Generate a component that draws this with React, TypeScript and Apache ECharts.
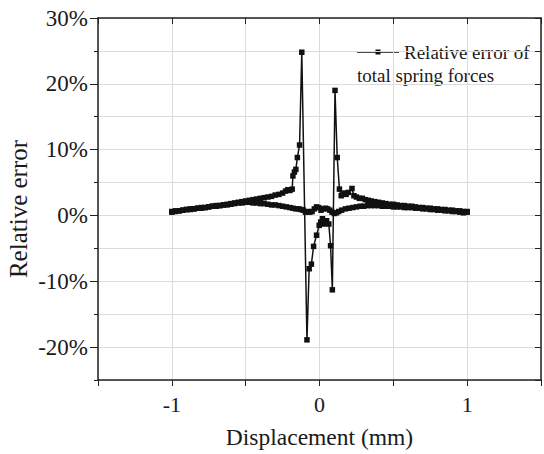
import React, { useEffect, useRef } from "react";
import * as echarts from "echarts";

// Forward sweep (-1 -> 1 mm), relative error in %
const forwardX = [
  -1.0, -0.975, -0.95, -0.925, -0.9, -0.875, -0.85, -0.825, -0.8, -0.775,
  -0.75, -0.725, -0.7, -0.675, -0.65, -0.625, -0.6, -0.575, -0.55, -0.525,
  -0.5, -0.475, -0.45, -0.425, -0.4, -0.375, -0.35, -0.325, -0.3, -0.275,
  -0.25, -0.23, -0.215, -0.2, -0.185, -0.18, -0.17, -0.16, -0.15, -0.135,
  -0.12, -0.085, -0.07, -0.055, -0.04, -0.02, -0.002, 0.008, 0.02, 0.03,
  0.048, 0.063, 0.075, 0.087, 0.105, 0.12, 0.135, 0.147, 0.165, 0.18,
  0.195, 0.22, 0.233, 0.25, 0.27, 0.29, 0.31, 0.33, 0.35, 0.375,
  0.4, 0.425, 0.45, 0.475, 0.5, 0.525, 0.55, 0.575, 0.6, 0.625,
  0.65, 0.675, 0.7, 0.725, 0.75, 0.775, 0.8, 0.825, 0.85, 0.875,
  0.9, 0.925, 0.95, 0.975, 1.0,
];
const forwardY = [
  0.5, 0.6, 0.7, 0.8, 0.9, 1.0, 1.0, 1.1, 1.2, 1.2,
  1.3, 1.4, 1.5, 1.5, 1.6, 1.7, 1.8, 1.9, 2.0, 2.1,
  2.2, 2.3, 2.4, 2.5, 2.6, 2.7, 2.8, 2.9, 3.1, 3.2,
  3.4, 3.7, 3.9, 3.8, 4.0, 6.0, 6.6, 7.0, 8.8, 10.7,
  24.8, -18.9, -8.1, -7.4, -4.7, -3.0, -1.5, -1.0, -0.5, -1.3,
  -0.8, -1.3, -4.6, -11.3, 19.0, 8.8, 4.0, 3.0, 3.4, 3.2,
  3.5, 4.1, 3.0, 2.8, 2.6, 2.6, 2.4, 2.3, 2.2, 2.1,
  2.0, 1.9, 1.8, 1.7, 1.7, 1.6, 1.5, 1.5, 1.4, 1.4,
  1.3, 1.2, 1.2, 1.1, 1.1, 1.0, 1.0, 0.9, 0.9, 0.8,
  0.8, 0.7, 0.7, 0.6, 0.6,
];

// Return sweep (1 -> -1 mm)
const returnX = [
  1.0, 0.975, 0.95, 0.925, 0.9, 0.875, 0.85, 0.825, 0.8, 0.775,
  0.75, 0.725, 0.7, 0.675, 0.65, 0.625, 0.6, 0.575, 0.55, 0.525,
  0.5, 0.475, 0.45, 0.425, 0.4, 0.375, 0.35, 0.325, 0.3, 0.275,
  0.25, 0.225, 0.2, 0.175, 0.15, 0.13, 0.115, 0.1, 0.085, 0.07,
  0.055, 0.04, 0.025, 0.01, -0.005, -0.02, -0.035, -0.05, -0.065, -0.08,
  -0.095, -0.11, -0.125, -0.14, -0.16, -0.18, -0.2, -0.225, -0.25, -0.275,
  -0.3, -0.325, -0.35, -0.375, -0.4, -0.425, -0.45, -0.475, -0.5, -0.525,
  -0.55, -0.575, -0.6, -0.625, -0.65, -0.675, -0.7, -0.725, -0.75, -0.775,
  -0.8, -0.825, -0.85, -0.875, -0.9, -0.925, -0.95, -0.975, -1.0,
];
const returnY = [
  0.5, 0.4, 0.5, 0.6, 0.6, 0.7, 0.7, 0.8, 0.8, 0.9,
  0.9, 1.0, 1.0, 1.1, 1.1, 1.2, 1.2, 1.2, 1.3, 1.3,
  1.3, 1.4, 1.4, 1.4, 1.5, 1.5, 1.5, 1.5, 1.4, 1.4,
  1.3, 1.2, 1.1, 1.0, 0.8, 0.6, 0.4, 0.3, 0.5, 0.8,
  1.0, 1.1, 1.0, 0.8, 1.2, 1.3, 1.0, 0.6, 0.5, 0.6,
  0.5, 0.8, 0.9, 1.0, 1.0, 1.1, 1.2, 1.3, 1.4, 1.5,
  1.6, 1.6, 1.7, 1.8, 1.8, 1.9, 1.9, 2.0, 2.0, 1.9,
  1.9, 1.8, 1.7, 1.6, 1.6, 1.5, 1.4, 1.4, 1.3, 1.2,
  1.1, 1.1, 1.0, 0.9, 0.9, 0.8, 0.7, 0.7, 0.6,
];

const xTickLabels = ["-1", "0", "1"];
const yTickLabels = ["-20%", "-10%", "0%", "10%", "20%", "30%"];
const yMajorTicks = [-20, -10, 0, 10, 20, 30];
const seriesName = "Relative error of total spring forces";
const legendLines = ["Relative error of", "total spring forces"];
const xAxisTitle = "Displacement (mm)";
const yAxisTitle = "Relative error";

const FONT = "Liberation Serif";
const TEXT = "#1a1a1a";
const AXIS = "#222";

export default function App() {
  const ref = useRef<HTMLDivElement>(null);
  useEffect(() => {
    if (!ref.current) return;
    const chart = echarts.init(ref.current, undefined, { renderer: "svg" });
    const data: [number, number][] = [];
    forwardX.forEach((x, i) => data.push([x, forwardY[i]]));
    returnX.forEach((x, i) => data.push([x, returnY[i]]));

    const fmtX = (v: number) => {
      const s = String(Math.round(v * 100) / 100);
      return xTickLabels.includes(s) ? s : "";
    };
    const fmtY = (v: number) => {
      const s = Math.round(v) + "%";
      return yTickLabels.includes(s) ? s : "";
    };

    chart.setOption({
      animation: false,
      textStyle: { fontFamily: FONT },
      grid: { left: 98, top: 18, width: 450, height: 362 },
      xAxis: [
        {
          type: "value",
          min: -1.5,
          max: 1.5,
          interval: 0.5,
          position: "bottom",
          name: xAxisTitle,
          nameLocation: "middle",
          nameGap: 45,
          nameTextStyle: { fontFamily: FONT, fontSize: 23.5, color: TEXT },
          axisLine: { show: true, onZero: false, lineStyle: { color: AXIS, width: 1.5 } },
          axisTick: { show: true, inside: false, length: 6, lineStyle: { color: AXIS } },
          axisLabel: { formatter: fmtX, fontFamily: FONT, fontSize: 22, color: TEXT, margin: 13 },
          splitLine: { show: true, lineStyle: { color: "#dcdcdc", width: 1 } },
        },
        {
          type: "value",
          min: -1.5,
          max: 1.5,
          interval: 0.5,
          position: "top",
          axisLine: { show: true, onZero: false, lineStyle: { color: AXIS, width: 1.5 } },
          axisTick: { show: true, inside: true, length: 6, lineStyle: { color: AXIS } },
          axisLabel: { show: false },
          splitLine: { show: false },
        },
      ],
      yAxis: [
        {
          type: "value",
          min: -25,
          max: 30,
          interval: 5,
          position: "left",
          axisLine: { show: true, onZero: false, lineStyle: { color: AXIS, width: 1.5 } },
          axisTick: { show: true, inside: false, length: 4, lineStyle: { color: AXIS } },
          axisLabel: { formatter: fmtY, fontFamily: FONT, fontSize: 23, color: TEXT, margin: 10 },
          splitLine: { show: true, lineStyle: { color: "#dcdcdc", width: 1 } },
        },
        {
          type: "value",
          min: -25,
          max: 30,
          interval: 5,
          position: "right",
          axisLine: { show: true, onZero: false, lineStyle: { color: AXIS, width: 1.5 } },
          axisTick: { show: true, inside: true, length: 6, lineStyle: { color: AXIS } },
          axisLabel: { show: false },
          splitLine: { show: false },
        },
        {
          type: "value",
          min: -25,
          max: 30,
          position: "left",
          axisLine: { show: false, onZero: false },
          axisTick: {
            show: true,
            inside: false,
            length: 8,
            customValues: yMajorTicks,
            lineStyle: { color: AXIS },
          },
          axisLabel: { show: false },
          splitLine: { show: false },
        },
      ],
      series: [
        {
          name: seriesName,
          type: "line",
          xAxisIndex: 0,
          yAxisIndex: 0,
          data,
          symbol: "rect",
          symbolSize: 5.5,
          showAllSymbol: true,
          itemStyle: { color: "#111" },
          lineStyle: { color: "#111", width: 1.5 },
          z: 5,
        },
      ],
      graphic: [
        {
          type: "text",
          x: 18,
          y: 209,
          rotation: Math.PI / 2,
          style: {
            text: yAxisTitle,
            font: `25px ${FONT}`,
            fill: TEXT,
            align: "center",
            verticalAlign: "middle",
          },
        },
        {
          type: "line",
          shape: { x1: 357, y1: 52, x2: 399, y2: 52 },
          style: { stroke: "#111", lineWidth: 1.5 },
        },
        {
          type: "rect",
          shape: { x: 375.5, y: 49.5, width: 5, height: 5 },
          style: { fill: "#111" },
        },
        {
          type: "text",
          x: 404,
          y: 52,
          style: {
            text: legendLines[0],
            font: `19px ${FONT}`,
            fill: TEXT,
            verticalAlign: "middle",
          },
        },
        {
          type: "text",
          x: 357,
          y: 75,
          style: {
            text: legendLines[1],
            font: `19px ${FONT}`,
            fill: TEXT,
            verticalAlign: "middle",
          },
        },
      ],
    });
    return () => chart.dispose();
  }, []);
  return (
    <div
      ref={ref}
      style={{ position: "fixed", left: 0, top: 0, width: 544, height: 454, background: "#fff" }}
    />
  );
}
